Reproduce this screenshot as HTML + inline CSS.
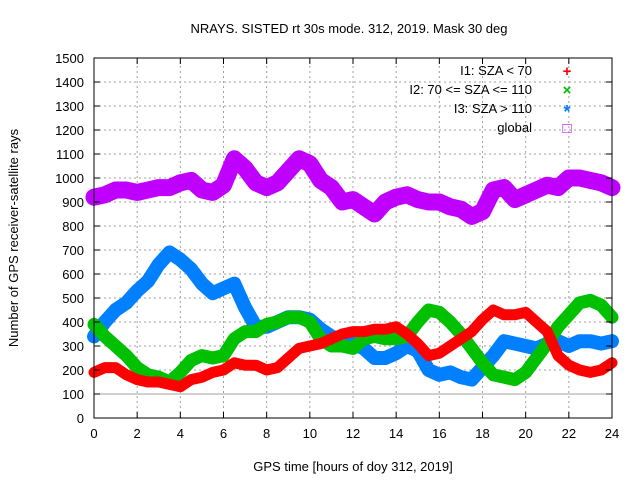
<!DOCTYPE html>
<html><head><meta charset="utf-8"><style>
body{margin:0;background:#fff;font-family:"Liberation Sans",sans-serif}
svg text{font-family:"Liberation Sans",sans-serif;font-size:13px;fill:#000}
</style></head><body>
<svg id="chart" width="640" height="480">
<text x="349" y="33" text-anchor="middle">NRAYS. SISTED rt 30s mode. 312, 2019. Mask 30 deg</text>
<text x="353" y="471" text-anchor="middle">GPS time [hours of doy 312, 2019]</text>
<text transform="translate(18,238) rotate(-90)" text-anchor="middle">Number of GPS receiver-satellite rays</text>
<g id="grid"></g><g id="series"></g><g id="axes"></g><g id="legend"></g>
</svg>
<script>
const hours=[0,0.5,1,1.5,2,2.5,3,3.5,4,4.5,5,5.5,6,6.5,7,7.5,8,8.5,9,9.5,10,10.5,11,11.5,12,12.5,13,13.5,14,14.5,15,15.5,16,16.5,17,17.5,18,18.5,19,19.5,20,20.5,21,21.5,22,22.5,23,23.5,24];
const globalVals=[920,930,950,950,940,950,960,960,980,990,950,940,970,1080,1040,980,960,980,1030,1080,1060,990,960,900,910,880,850,900,920,930,910,900,900,880,870,840,860,950,960,910,930,950,970,960,1000,1000,990,980,960];
const i3Vals=[340,400,450,480,530,570,640,690,660,620,560,520,540,560,460,380,380,400,420,420,410,370,340,320,310,290,250,250,270,300,280,200,180,190,170,160,210,260,320,310,300,290,310,320,300,320,320,310,320];
const i2Vals=[390,340,300,260,210,180,170,150,190,240,260,250,260,330,360,360,390,400,420,420,400,330,300,300,290,330,340,330,330,340,400,450,440,400,350,290,230,180,170,160,190,250,310,380,430,480,490,470,420];
const i1Vals=[190,210,210,180,160,150,150,140,130,160,170,190,200,230,220,220,200,210,250,290,300,310,330,350,360,360,370,370,380,350,310,260,270,300,330,360,410,450,430,430,440,400,360,260,220,200,190,200,230];
const xTicks=[0,2,4,6,8,10,12,14,16,18,20,22,24];
const yTicks=[0,100,200,300,400,500,600,700,800,900,1000,1100,1200,1300,1400,1500];
const NS="http://www.w3.org/2000/svg";
const X0=94,X1=612,Y0=418,Y1=58;
const xs=h=>X0+(h/24)*(X1-X0);
const ys=v=>Y0-(v/1500)*(Y0-Y1);
function mk(tag,attrs,parent){const e=document.createElementNS(NS,tag);for(const k in attrs)e.setAttribute(k,attrs[k]);parent.appendChild(e);return e;}
const grid=document.getElementById('grid'),axes=document.getElementById('axes'),ser=document.getElementById('series'),leg=document.getElementById('legend');
xTicks.forEach(t=>{
 if(t>0&&t<24){const g=mk('line',{x1:xs(t),x2:xs(t),y1:Y0,y2:Y1,stroke:'#a0a0a0','stroke-dasharray':'2,3'},grid);
 
 }
 const tk=mk('text',{x:xs(t),y:Y0+20,'text-anchor':'middle'},axes);tk.textContent=t;
 
 
 mk('line',{x1:xs(t),x2:xs(t),y1:Y0,y2:Y0-6,stroke:'#000'},axes);
 mk('line',{x1:xs(t),x2:xs(t),y1:Y1,y2:Y1+6,stroke:'#000'},axes);
});
yTicks.forEach(t=>{
 if(t>0&&t<1500){const g=mk('line',{x1:X0,x2:X1,y1:ys(t),y2:ys(t),stroke:'#a0a0a0','stroke-dasharray':'2,3'},grid);
 
 }
 const tk=mk('text',{x:X0-10,y:ys(t)+5,'text-anchor':'end'},axes);tk.textContent=t;
 
 
 mk('line',{x1:X0,x2:X0+6,y1:ys(t),y2:ys(t),stroke:'#000'},axes);
 mk('line',{x1:X1,x2:X1-6,y1:ys(t),y2:ys(t),stroke:'#000'},axes);
});
const ref=mk('line',{x1:X0,x2:X1,y1:ys(100),y2:ys(100),stroke:'#a0a0a0'},grid);


const frame=mk('rect',{x:X0,y:Y1,width:X1-X0,height:Y0-Y1,fill:'none',stroke:'#000'},axes);


const series=[
 {vals:i1Vals,color:'#ff0000',name:'series-i1',w:11},
 {vals:i2Vals,color:'#00c000',name:'series-i2',w:13},
 {vals:i3Vals,color:'#0080ff',name:'series-i3',w:14},
 {vals:globalVals,color:'#c000ff',name:'series-global',w:17}
];
[series[3],series[2],series[1],series[0]].forEach(s=>{
 const p=mk('polyline',{points:hours.map((h,i)=>xs(h)+','+ys(s.vals[i])).join(' '),fill:'none',stroke:s.color,'stroke-width':s.w,'stroke-linejoin':'round','stroke-linecap':'round'},ser);
 
 
});
const labels=['I1: SZA < 70','I2: 70 <= SZA <= 110','I3: SZA > 110','global'];
const sym=['+','×','*','□'];
labels.forEach((l,i)=>{
 const y=75+i*19;
 const t=mk('text',{x:532,y:y,'text-anchor':'end'},leg);t.textContent=l;
 
 
 const m=mk('text',{x:567,y:y+(i==2?5:1),'text-anchor':'middle',style:'fill:'+series[i].color+';font-size:'+(i==2?'18px':'15px')+';font-weight:bold'},leg);m.textContent=sym[i];
 
 
});
</script>
</body></html>
